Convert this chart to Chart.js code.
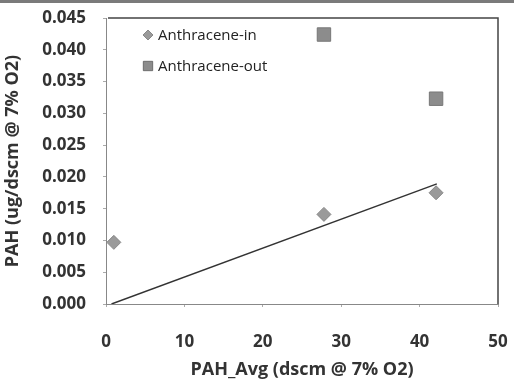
<!DOCTYPE html>
<html>
<head>
<meta charset="utf-8">
<script src="https://cdn.jsdelivr.net/npm/chart.js@4/dist/chart.umd.min.js"></script>
<style>
  html, body { margin: 0; padding: 0; background: #fff; }
  #wrap { width: 514px; height: 383px; }
</style>
</head>
<body>
<div id="wrap"><canvas id="pahChart" width="514" height="383"></canvas></div>
<script>
// values
var inX = [1.0, 27.8, 42.1];
var inY = [0.0097, 0.0141, 0.0175];
var outX = [27.8, 42.1];
var outY = [0.0424, 0.0323];
var trendX = [0.7, 42.2];
var trendY = [0.0, 0.0189];

var xTitle = 'PAH_Avg (dscm @ 7% O2)';
var yTitle = 'PAH (ug/dscm @ 7% O2)';
var legendNames = ['Anthracene-in', 'Anthracene-out'];

function toPoints(xs, ys) {
    var pts = [];
    for (let i = 0; i < xs.length; i++) {
        pts.push({ x: xs[i], y: ys[i] });
    }
    return pts;
}

var fontName = "'Open Sans', 'Noto Sans', sans-serif";

// grey strip along the top edge (scan edge in the original)
var edgePlugin = {
    id: 'edge',
    beforeDraw: function (chart) {
        var ctx = chart.ctx;
        ctx.save();
        ctx.fillStyle = '#fff';
        ctx.fillRect(0, 0, chart.width, chart.height);
        ctx.fillStyle = '#7a7a7a';
        ctx.fillRect(0, 0, chart.width, 3);
        ctx.restore();
    }
};

// top and right frame lines of the plot area
var framePlugin = {
    id: 'frame',
    afterDraw: function (chart) {
        var a = chart.chartArea;
        var ctx = chart.ctx;
        ctx.save();
        ctx.strokeStyle = '#444';
        ctx.lineWidth = 1.5;
        ctx.beginPath();
        ctx.moveTo(a.left + 2, a.top);
        ctx.lineTo(a.right, a.top);
        ctx.lineTo(a.right, a.bottom);
        ctx.stroke();
        ctx.restore();
    }
};

// legend drawn inside the plot, top left
var legendPlugin = {
    id: 'innerLegend',
    afterDraw: function (chart) {
        var ctx = chart.ctx;
        var a = chart.chartArea;
        ctx.save();
        for (let i = 0; i < 2; i++) {
            var ds = chart.data.datasets[i];
            var mx = a.left + 42;
            var my = a.top + 17 + i * 31;
            Chart.helpers.drawPoint(ctx, {
                pointStyle: ds.pointStyle,
                radius: i == 0 ? 5 : 6.5,
                borderWidth: 1
            }, mx, my);
            ctx.fillStyle = ds.backgroundColor;
            ctx.strokeStyle = ds.borderColor;
            ctx.fill();
            ctx.stroke();
            ctx.fillStyle = '#222';
            ctx.font = '15px ' + fontName;
            ctx.textBaseline = 'middle';
            ctx.textAlign = 'left';
            ctx.fillText(legendNames[i], mx + 10, my + 1);
        }
        ctx.restore();
    }
};

new Chart(document.getElementById('pahChart'), {
    type: 'scatter',
    data: {
        datasets: [{
            label: legendNames[0],
            data: toPoints(inX, inY),
            pointStyle: 'rectRot',
            pointRadius: 7,
            backgroundColor: '#9a9a9a',
            borderColor: '#888',
            borderWidth: 1
        }, {
            label: legendNames[1],
            data: toPoints(outX, outY),
            pointStyle: 'rect',
            pointRadius: 9.5,
            backgroundColor: '#8c8c8c',
            borderColor: '#777',
            borderWidth: 1
        }, {
            label: 'trend',
            data: toPoints(trendX, trendY),
            showLine: true,
            pointRadius: 0,
            borderColor: '#333',
            borderWidth: 1.5,
            fill: false
        }]
    },
    options: {
        responsive: false,
        animation: false,
        layout: { padding: { left: 2, right: 16, top: 18, bottom: 0 } },
        plugins: {
            legend: { display: false },
            tooltip: { enabled: false }
        },
        scales: {
            x: {
                type: 'linear',
                min: 0,
                max: 50,
                ticks: {
                    stepSize: 10,
                    padding: 25,
                    color: '#333',
                    font: { family: fontName, size: 17, weight: 'bold' }
                },
                grid: { display: true, drawOnChartArea: false, tickLength: 3, color: '#aaa' },
                border: { display: true, color: '#888', dash: [2, 2], width: 1 },
                title: {
                    display: true,
                    text: xTitle,
                    color: '#333',
                    padding: { top: 0, bottom: 2 },
                    font: { family: fontName, size: 18, weight: 'bold' }
                },
                afterFit: function (scale) {
                    scale.height = 79;
                    scale.paddingLeft = 0;
                    scale.paddingRight = 0;
                }
            },
            y: {
                min: 0,
                max: 0.045,
                ticks: {
                    stepSize: 0.005,
                    padding: 17,
                    color: '#333',
                    font: { family: fontName, size: 17, weight: 'bold' },
                    callback: function (v) { return v.toFixed(3); }
                },
                grid: { display: true, drawOnChartArea: false, tickLength: 3, color: '#aaa' },
                border: { display: true, color: '#888', dash: [2, 2], width: 1 },
                title: {
                    display: true,
                    text: yTitle,
                    color: '#333',
                    padding: { top: 0, bottom: 0 },
                    font: { family: fontName, size: 18, weight: 'bold' }
                },
                afterFit: function (scale) {
                    scale.width = 104;
                    scale.paddingTop = 0;
                    scale.paddingBottom = 0;
                }
            }
        }
    },
    plugins: [edgePlugin, framePlugin, legendPlugin]
});
</script>
</body>
</html>
